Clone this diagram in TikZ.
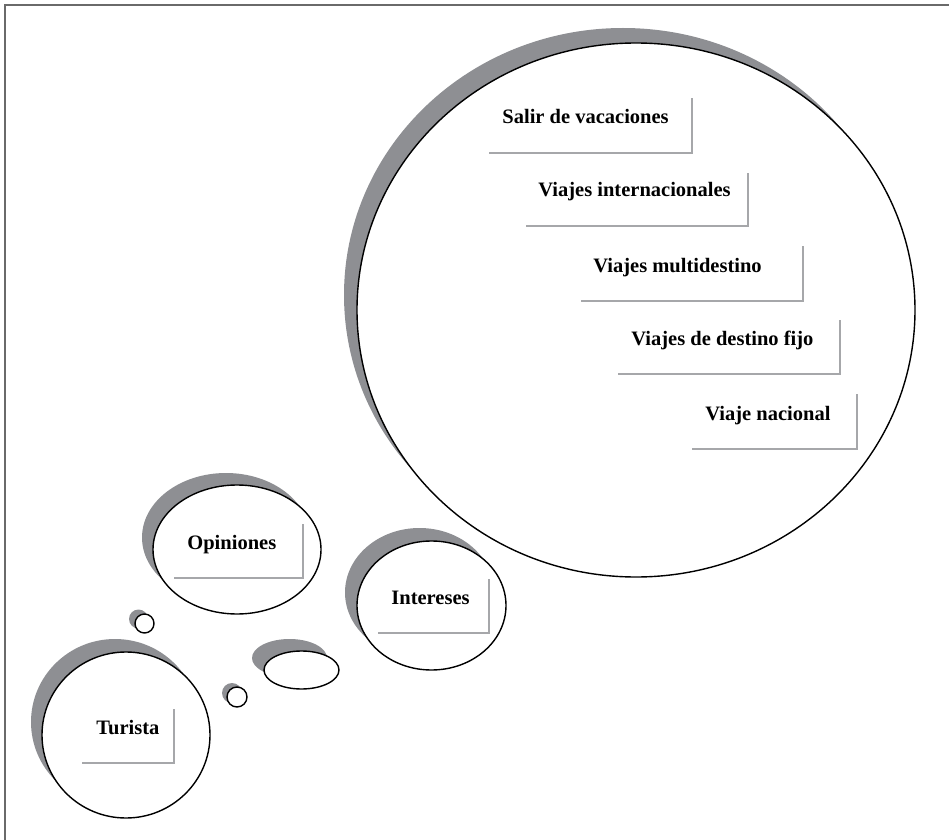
\documentclass[tikz,border=0pt]{standalone}
\usepackage{fontspec}
\setmainfont{Liberation Serif}

\definecolor{shadowgray}{HTML}{8E8F93}
\definecolor{linegray}{HTML}{A6A7AA}
\definecolor{framegray}{HTML}{6A6A6A}

\tikzset{
	bubble/.style={fill=white, draw=black, line width=0.7pt},
	tag/.style={font=\bfseries\fontsize{10.25}{12}\selectfont, anchor=base west, inner sep=0pt},
	bracket/.style={linegray, line width=1pt}
}

\begin{document}
\begin{tikzpicture}[x=0.5pt, y=-0.5pt]
		\useasboundingbox (0,0) rectangle (949,840);
		\draw[framegray, line width=1pt] (5,840) -- (5,5) -- (949,5);

		% big thought
		\fill[shadowgray] (623,295) ellipse [x radius=279, y radius=267];
		\filldraw[bubble] (636,310) ellipse [x radius=279, y radius=267];

		% smaller thoughts
		\fill[shadowgray] (226,537.5) ellipse [x radius=84, y radius=64.5];
		\filldraw[bubble] (237,549.5) ellipse [x radius=84, y radius=64.5];
		\fill[shadowgray] (419.5,592.5) ellipse [x radius=74.5, y radius=64.5];
		\filldraw[bubble] (431.5,605.5) ellipse [x radius=74.5, y radius=64.5];
		\fill[shadowgray] (115,722) ellipse [x radius=84, y radius=83];
		\filldraw[bubble] (126,735) ellipse [x radius=84, y radius=83];
		\fill[shadowgray] (289.5,658) ellipse [x radius=37.5, y radius=19];
		\filldraw[bubble] (301.5,670) ellipse [x radius=37.5, y radius=19];
		\fill[shadowgray] (138.5,619) circle [radius=9.5];
		\filldraw[bubble] (144.5,623.5) circle [radius=9.5];
		\fill[shadowgray] (232,693) circle [radius=10];
		\filldraw[bubble] (237,697) circle [radius=10];

		% labels
		\node[tag] (salir) at (502,124) {Salir de vacaciones};
		\draw[bracket] (489,153) -- (692,153) -- (692,98);
		\node[tag] (internacional) at (538,197) {Viajes internacionales};
		\draw[bracket] (526,226) -- (748,226) -- (748,173);
		\node[tag] (multidestino) at (593,272) {Viajes multidestino};
		\draw[bracket] (581,301) -- (803,301) -- (803,246);
		\node[tag] (fijo) at (631,345) {Viajes de destino fijo};
		\draw[bracket] (618,374) -- (840,374) -- (840,320);
		\node[tag] (nacional) at (705,420) {Viaje nacional};
		\draw[bracket] (692,449) -- (857,449) -- (857,394);

		\node[tag] (opiniones) at (187,549) {Opiniones};
		\draw[bracket] (174,578) -- (303,578) -- (303,524);
		\node[tag] (intereses) at (391,604) {Intereses};
		\draw[bracket] (378,633) -- (489,633) -- (489,579);
		\node[tag] (turista) at (96,734) {Turista};
		\draw[bracket] (82,763) -- (174,763) -- (174,709);
	\end{tikzpicture}
\end{document}
